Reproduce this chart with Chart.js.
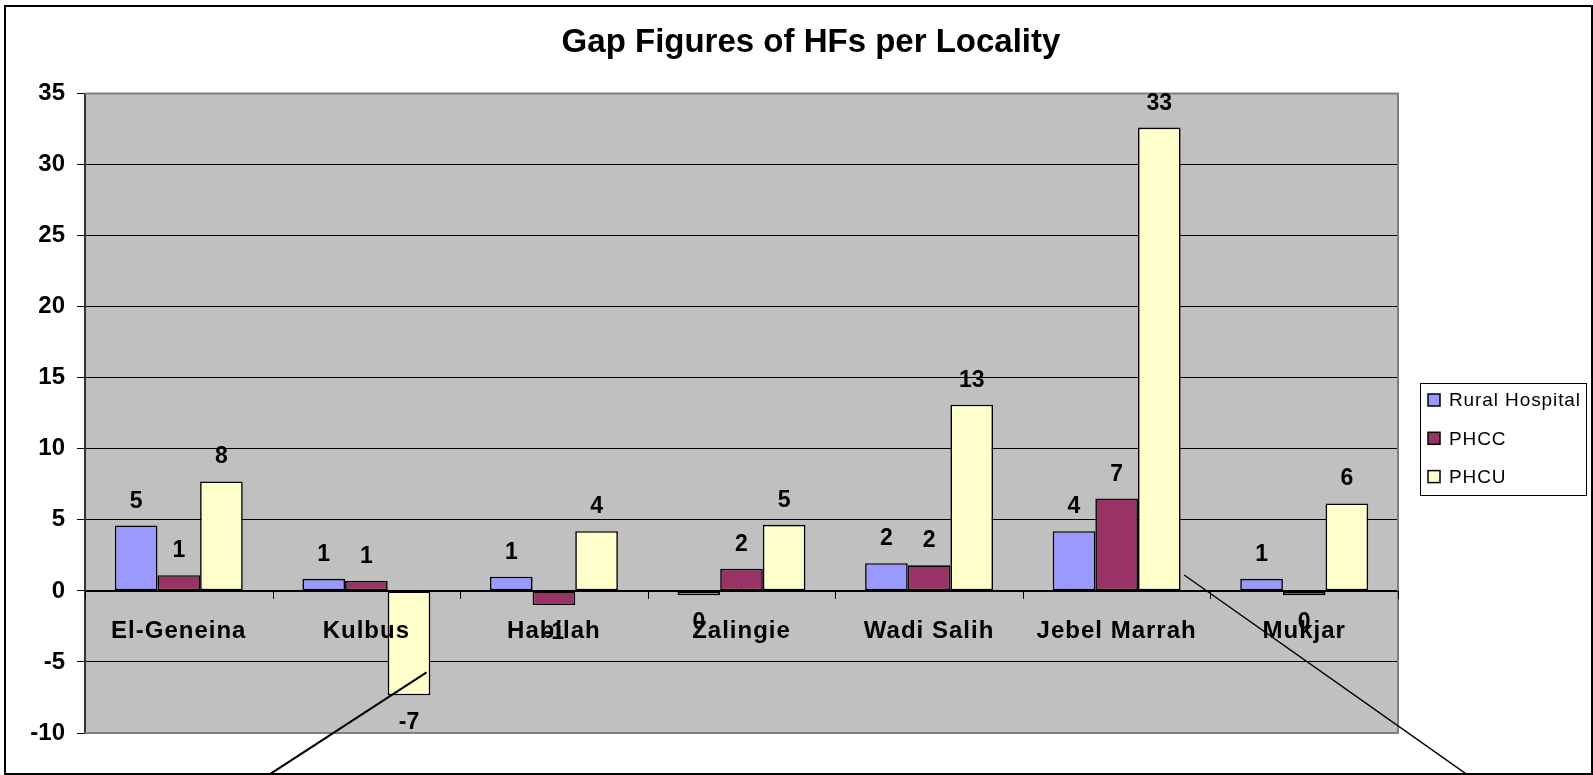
<!DOCTYPE html>
<html>
<head>
<meta charset="utf-8">
<script src="https://cdn.jsdelivr.net/npm/chart.js@4/dist/chart.umd.min.js"></script>
<style>
  html, body { margin: 0; padding: 0; background: #ffffff; }
  canvas { display: block; }
</style>
</head>
<body>
<canvas id="c" width="1593" height="775"></canvas>
<script>
const chartTitle = 'Gap Figures of HFs per Locality';
const categories = ['El-Geneina', 'Kulbus', 'Habilah', 'Zalingie', 'Wadi Salih', 'Jebel Marrah', 'Mukjar'];
const seriesNames = ['Rural Hospital', 'PHCC', 'PHCU'];
const ruralHospital = [4.6, 0.85, 1.0, -0.3, 1.95, 4.2, 0.85];
const phcc = [1.1, 0.7, -1.0, 1.55, 1.8, 6.5, -0.3];
const phcu = [7.7, -7.35, 4.2, 4.65, 13.1, 32.6, 6.15];
const yMin = -10, yMax = 35, yStep = 5;
const seriesColors = ['#9999FF', '#993366', '#FFFFCC'];
// annotation connector lines, in (category index, value) space
const annotationLines = [
  { from: [1.321, -5.73], to: [0.486, -12.9], width: 2 },
  { from: [5.36, 1.12], to: [6.865, -12.89], width: 1.4 }
];

const FONT = '"Liberation Sans", Arial, sans-serif';

const customDraw = {
  id: 'customDraw',
  beforeDraw(chart) {
    const { ctx, chartArea: a } = chart;
    ctx.save();
    ctx.fillStyle = '#ffffff';
    ctx.fillRect(0, 0, chart.width, chart.height);
    ctx.fillStyle = '#C0C0C0';
    ctx.fillRect(a.left, a.top, a.right - a.left, a.bottom - a.top);
    ctx.restore();
  },
  beforeDatasetsDraw(chart) {
    const { ctx, chartArea: a, scales } = chart;
    ctx.save();
    ctx.strokeStyle = '#808080';
    ctx.lineWidth = 2;
    ctx.beginPath();
    ctx.moveTo(a.left, a.top);
    ctx.lineTo(a.right, a.top);
    ctx.lineTo(a.right, a.bottom);
    ctx.lineTo(a.left, a.bottom);
    ctx.stroke();
    const y0 = scales.y.getPixelForValue(0);
    ctx.strokeStyle = '#000000';
    ctx.lineWidth = 1;
    ctx.beginPath();
    ctx.moveTo(a.left, Math.round(y0) + 0.5);
    ctx.lineTo(a.right, Math.round(y0) + 0.5);
    for (let i = 0; i <= categories.length; i++) {
      const x = Math.round(scales.x.getPixelForValue(i - 0.5)) + 0.5;
      ctx.moveTo(x, y0);
      ctx.lineTo(x, y0 + 8);
    }
    ctx.stroke();
    ctx.restore();
  },
  afterDatasetsDraw(chart) {
    const { ctx, scales } = chart;
    const y0 = scales.y.getPixelForValue(0);
    ctx.save();
    ctx.fillStyle = '#000000';
    ctx.font = 'bold 24px ' + FONT;
    ctx.letterSpacing = '1px';
    ctx.textAlign = 'center';
    ctx.textBaseline = 'alphabetic';
    categories.forEach((c, i) => {
      ctx.fillText(c, scales.x.getPixelForValue(i), y0 + 47);
    });
    ctx.restore();
  },
  afterDraw(chart) {
    const { ctx, scales } = chart;
    ctx.save();
    ctx.fillStyle = '#000000';
    ctx.font = 'bold 23px ' + FONT;
    ctx.textAlign = 'center';
    ctx.textBaseline = 'alphabetic';
    chart.data.datasets.forEach((ds, di) => {
      const meta = chart.getDatasetMeta(di);
      meta.data.forEach((bar, i) => {
        const v = ds.data[i];
        const r = Math.round(v);
        const txt = String(r === 0 ? 0 : r);
        const yv = scales.y.getPixelForValue(v);
        const y = v >= 0 ? yv - 18 : yv + 34;
        ctx.fillText(txt, bar.x, y);
      });
    });
    ctx.font = 'bold 33px ' + FONT;
    ctx.fillText(chartTitle, 811, 52);
    ctx.strokeStyle = '#000000';
    annotationLines.forEach(l => {
      ctx.lineWidth = l.width;
      ctx.beginPath();
      ctx.moveTo(scales.x.getPixelForValue(l.from[0]), scales.y.getPixelForValue(l.from[1]));
      ctx.lineTo(scales.x.getPixelForValue(l.to[0]), scales.y.getPixelForValue(l.to[1]));
      ctx.stroke();
    });
    const lx = 1420, ly = 383, lw = 166, lh = 112;
    ctx.fillStyle = '#ffffff';
    ctx.fillRect(lx, ly, lw, lh);
    ctx.strokeStyle = '#000000';
    ctx.lineWidth = 1;
    ctx.strokeRect(lx + 0.5, ly + 0.5, lw, lh);
    ctx.font = '19px ' + FONT;
    ctx.letterSpacing = '0.9px';
    ctx.textAlign = 'left';
    ctx.textBaseline = 'middle';
    chart.data.datasets.forEach((ds, di) => {
      const cy = 400 + di * 38.3;
      ctx.fillStyle = ds.backgroundColor;
      ctx.fillRect(lx + 8, cy - 6, 12, 12);
      ctx.strokeStyle = '#000000';
      ctx.lineWidth = 1.5;
      ctx.strokeRect(lx + 8, cy - 6, 12, 12);
      ctx.fillStyle = '#000000';
      ctx.fillText(ds.label, lx + 29, cy + 1);
    });
    ctx.strokeStyle = '#000000';
    ctx.lineWidth = 2;
    ctx.strokeRect(5, 6, 1587, 768);
    ctx.restore();
  }
};

const ctx = document.getElementById('c').getContext('2d');
new Chart(ctx, {
  type: 'bar',
  data: {
    labels: categories,
    datasets: [
      { label: seriesNames[0], data: ruralHospital, backgroundColor: seriesColors[0] },
      { label: seriesNames[1], data: phcc, backgroundColor: seriesColors[1] },
      { label: seriesNames[2], data: phcu, backgroundColor: seriesColors[2] }
    ].map(d => Object.assign(d, {
      borderColor: '#000000', borderWidth: 1.6, borderSkipped: false,
      categoryPercentage: 0.682, barPercentage: 1.0
    }))
  },
  options: {
    responsive: false,
    animation: false,
    devicePixelRatio: 1,
    layout: { padding: { left: 0, top: 93.5, right: 195, bottom: 42 } },
    plugins: { legend: { display: false }, title: { display: false }, tooltip: { enabled: false } },
    scales: {
      x: { display: false, offset: true, grid: { display: false } },
      y: {
        min: yMin, max: yMax,
        afterFit(s) { s.width = 85; },
        ticks: {
          stepSize: yStep,
          color: '#000000',
          padding: 12,
          font: { family: FONT, size: 24, weight: 'bold' }
        },
        grid: {
          color: c => (c.tick && (c.tick.value === yMax || c.tick.value === yMin)) ? 'rgba(0,0,0,0)' : '#000000',
          tickColor: '#000000',
          tickLength: 8,
          lineWidth: 1
        },
        border: { display: true, color: '#333333', width: 2 }
      }
    }
  },
  plugins: [customDraw]
});
</script>
</body>
</html>
